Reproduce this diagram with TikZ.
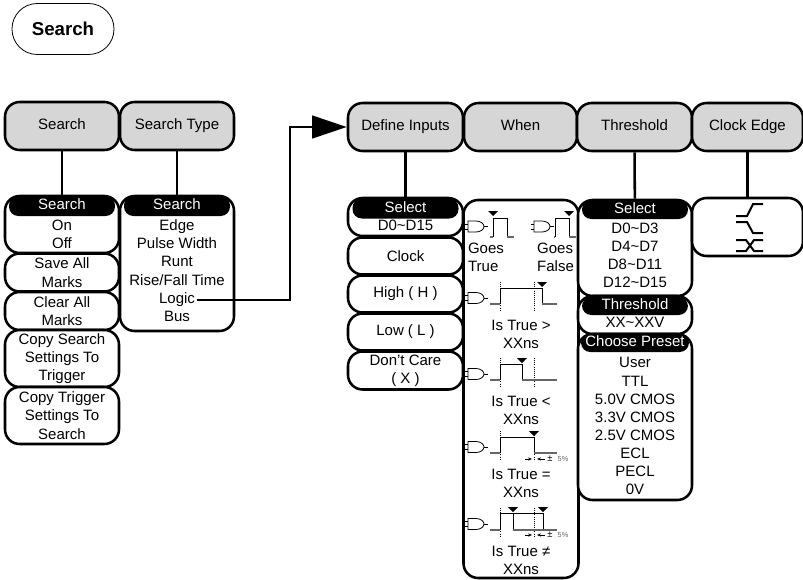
\documentclass[tikz,border=0pt]{standalone}
\usepackage{fontspec}
\setmainfont{Liberation Sans}
\usetikzlibrary{arrows.meta}
\tikzset{
	sized/.style 2 args={minimum width=#1*0.75pt, minimum height=#2*0.75pt},
	oneline/.style={text height=8.1pt, text depth=2.4pt},
	menukey/.style={draw, line width=1.9pt, fill=black!16, rounded corners=11pt, inner sep=0pt, oneline, font=\fontsize{11.25}{13.7}\selectfont},
	panel/.style={draw, line width=1.9pt, fill=white, rounded corners=11pt, inner sep=0pt, align=center, font=\fontsize{11.25}{13.7}\selectfont},
	title/.style={fill=black, text=white, rounded corners=7pt, inner sep=0pt, oneline, font=\fontsize{11.25}{13.7}\selectfont},
	item/.style={inner sep=1pt, oneline, font=\fontsize{11.25}{13.7}\selectfont},
	lines/.style={inner sep=1pt, align=center, font=\fontsize{11.25}{13.7}\selectfont},
	link/.style={line width=1.9pt},
	wave/.style={line width=0.7pt},
	low/.style={line width=0.8pt, black!60},
	edgeline/.style={line width=1.5pt},
	gate/.pic={
		\draw [line width=0.6pt] (0,-5.5) -- (8,-5.5) .. controls (13,-5.5) and (16,-2.5) .. (16,0) .. controls (16,2.5) and (13,5.5) .. (8,5.5) -- (0,5.5) -- cycle;
		\draw [line width=0.6pt] (-3,-2.5) -- (0,-2.5) (-3,2.5) -- (0,2.5) (16,0) -- (20,0);
	},
	trigger/.pic={\fill (-5,-5) -- (5,-5) -- (0,0) -- cycle;},
	tolerance/.pic={
		\draw [-{Stealth[length=3pt,width=2.5pt]}, line width=0.5pt] (-9,0) -- (-2,0);
		\draw [-{Stealth[length=3pt,width=2.5pt]}, line width=0.5pt] (11,0) -- (3,0);
		\node [inner sep=0pt] (pm) at (16,0) {\fontsize{7}{7}\selectfont ±};
		\node [inner sep=0pt, black!60] (pct) at (29,0) {\fontsize{5.5}{6}\selectfont 5\%};
	},
}
\begin{document}
\begin{tikzpicture}[x=0.75pt,y=-0.75pt]
	\useasboundingbox (0,0) rectangle (803,579);
	\node [draw, line width=0.6pt, rounded corners=19pt, sized={102}{51}, font=\fontsize{14}{16}\selectfont\bfseries] (key) at (63,29) {Search};
	% soft menu keys
	\node [menukey, sized={114}{48}] (search) at (62,126) {Search};
	\node [menukey, sized={114}{48}] (type) at (177,126) {Search Type};
	\node [menukey, sized={115}{48}] (define) at (405.5,127) {Define Inputs};
	\node [menukey, sized={113}{48}] (when) at (520.5,127) {When};
	\node [menukey, sized={115}{48}] (threshold) at (634.5,127) {Threshold};
	\node [menukey, sized={111}{48}] (clock) at (747.5,127) {Clock Edge};
	% left menu
	\node [panel, sized={114}{57}] (searchlist) at (62,224.5) {};
	\node [title, sized={106}{20}] (searchtitle) at (62,206) {Search};
	\node [lines] (onoff) at (62,234) {On\\Off};
	\node [panel, sized={114}{38}] (save) at (62,272.5) {Save All\\Marks};
	\node [panel, sized={114}{38}] (clear) at (62,311) {Clear All\\Marks};
	\node [panel, sized={114}{57}] (copysearch) at (62,358.5) {Copy Search\\Settings To\\Trigger};
	\node [panel, sized={114}{57}] (copytrigger) at (62,415.5) {Copy Trigger\\Settings To\\Search};
	\node [panel, sized={114}{135}] (typelist) at (177,263.5) {};
	\node [title, sized={106}{20}] (typetitle) at (177,206) {Search};
	\foreach \y/\t in {227/Edge,245/Pulse Width,263/Runt,282/{Rise/Fall Time},318/Bus}
		\node [item] (type\y) at (177,\y) {\t};
	\node [item] (logic) at (177,300) {Logic};
	% define inputs
	\node [panel, sized={115}{38}] (selectlist) at (405.5,217) {};
	\node [title, sized={106}{20}] (selecttitle) at (405.5,208.5) {Select};
	\node [item] (inputs) at (405.5,227) {D0\char`~D15};
	\node [panel, sized={115}{37}] (clockin) at (405.5,256) {Clock};
	\node [panel, sized={115}{37}] (high) at (405.5,294) {High ( H )};
	\node [panel, sized={115}{37}] (lowin) at (405.5,332) {Low ( L )};
	\node [panel, sized={115}{38}] (dontcare) at (405.5,370.5) {Don't Care\\( X )};
	% when
	\node [panel, sized={115}{378}] (whenlist) at (521,389) {};
	\pic at (468,226.5) {gate};
	\pic at (534,226.5) {gate};
	\draw [low] (490,237) -- (493,237);
	\draw [wave] (493,237) -- (493,218) -- (507,218) -- (507,237);
	\draw [low] (507,237) -- (514,237);
	\draw [low] (554,237) -- (555,237);
	\draw [wave] (555,237) -- (555,218) -- (569,218) -- (569,237);
	\draw [low] (569,237) -- (576,237);
	\pic at (493,216) {trigger};
	\pic at (569,216) {trigger};
	\node [lines, align=left] (goestrue) at (486,257.5) {Goes\\True};
	\node [lines, align=left] (goesfalse) at (555.5,257.5) {Goes\\False};
	\foreach \y/\t in {298/{>},374/{<},447/{=},524/{≠}}{
		\pic at (468,\y) {gate};
		\draw [low] (490,\y+6) -- (500,\y+6);
		\draw [densely dotted, line width=0.6pt] (500,\y-16) -- (500,\y+12);
		\draw [densely dotted, line width=0.6pt] (534,\y-16) -- (534,\y+12);
		\node [lines] (istrue\y) at (521,\y+36.5) {Is True \t\\XXns};
	}
	\draw [wave] (500,304) -- (500,288) -- (542,288) -- (542,304);
	\draw [low] (542,304) -- (557,304);
	\pic at (542,287) {trigger};
	\draw [wave] (500,380) -- (500,364) -- (522,364) -- (522,380);
	\draw [low] (522,380) -- (557,380);
	\pic at (522,363) {trigger};
	\draw [wave] (500,453) -- (500,437) -- (534,437) -- (534,453);
	\draw [low] (534,453) -- (557,453);
	\pic at (534,436) {trigger};
	\pic at (534,459) {tolerance};
	\draw [wave] (500,530) -- (500,513) -- (543,513) -- (543,530);
	\draw [wave] (513,513) -- (513,530);
	\draw [low] (513,530) -- (557,530);
	\pic at (513,512) {trigger};
	\pic at (543,512) {trigger};
	\pic at (534,535) {tolerance};
	% threshold
	\node [panel, sized={114}{96}] (rangelist) at (635,248) {};
	\node [title, sized={106}{19}] (rangetitle) at (635,209.5) {Select};
	\foreach \y/\t in {230/D0\char`~D3,248/D4\char`~D7,266/D8\char`~D11,284/D12\char`~D15}
		\node [item] (range\y) at (635,\y) {\t};
	\node [panel, sized={114}{38}] (levelbox) at (635,315) {};
	\node [title, sized={106}{18}] (leveltitle) at (635,306) {Threshold};
	\node [item] (level) at (635,324) {XX\char`~XXV};
	\node [panel, sized={114}{166}] (presetlist) at (635,417) {};
	\node [title, sized={108}{18}] (presettitle) at (635,343) {Choose Preset};
	\foreach \y/\t in {364/User,383/TTL,401/5.0V CMOS,419/3.3V CMOS,437/2.5V CMOS,455/ECL,473/PECL,491/0V}
		\node [item] (preset\y) at (635,\y) {\t};
	% clock edge
	\node [panel, sized={111}{58}] (edgebox) at (747.5,227) {};
	\draw [edgeline] (736,216) -- (747,216) -- (753,204) -- (763,204);
	\draw [edgeline] (736,222) -- (747,222) -- (753,233) -- (763,233);
	\draw [edgeline] (736,240) -- (746,240) -- (754,251) -- (763,251);
	\draw [edgeline] (736,251) -- (746,251) -- (754,240) -- (763,240);
	% connectors
	\draw [link] (search) -- (searchlist);
	\draw [link] (type) -- (typelist);
	\draw [link] (define) -- (selectlist);
	\draw [link] (threshold) -- (rangelist);
	\draw [link] (clock) -- (edgebox);
	\coordinate (bend) at (290,127);
	\draw [link, -{Triangle[length=26pt,width=17pt]}] (logic) -- (bend |- logic) -- (bend) -- (define);
\end{tikzpicture}
\end{document}
